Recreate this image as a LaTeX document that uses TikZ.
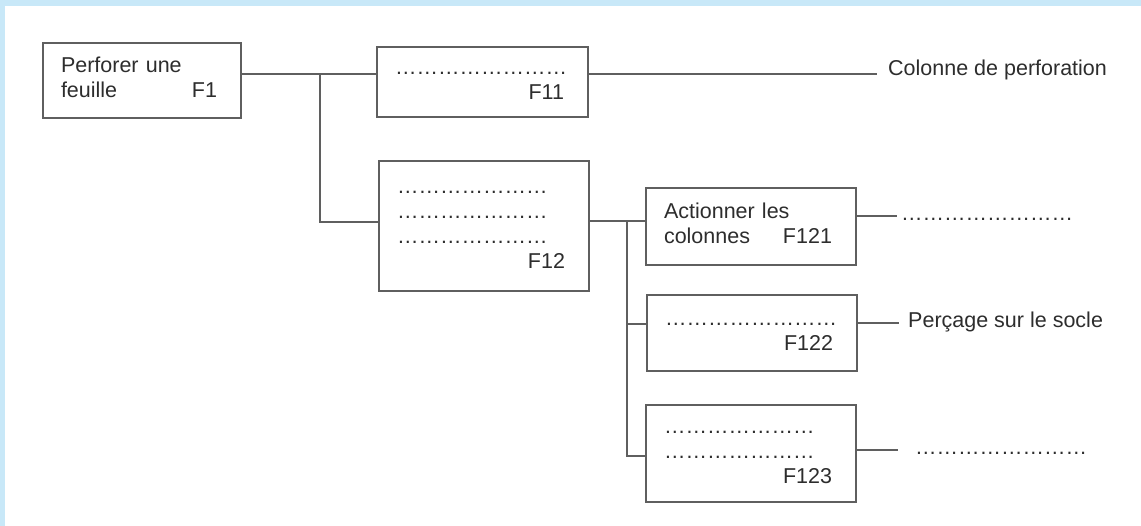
\documentclass[tikz,border=0pt]{standalone}
\usepackage{fontspec}
\setmainfont{Liberation Sans}
\usepackage{tikz}
\usetikzlibrary{positioning,calc}
\definecolor{linegray}{RGB}{95,95,95}
\definecolor{txtgray}{RGB}{45,45,45}
\definecolor{frameblue}{RGB}{200,232,248}
\newcommand\fnum[1]{\mbox{}\hfill #1\kern6pt}

\begin{document}
\begin{tikzpicture}[
    x=1pt, y=-1pt,
    fbox/.style={draw=linegray, line width=1.6pt, text=txtgray,
      font=\fontsize{21.5}{25}\selectfont, align=left, inner xsep=18pt, inner ysep=0pt,
      execute at begin node=\strut, execute at end node=\strut},
    link/.style={draw=linegray, line width=1.6pt},
    lab/.style={text=txtgray, font=\fontsize{21.5}{25}\selectfont, inner sep=0pt, anchor=base west}
  ]
  \fill[frameblue] (0,0) rectangle (1141,526);
  \fill[white] (5,6) rectangle (1141,526);

  \node[fbox, text width=162pt, minimum height=75pt] (F1) at (142,80.5) {Perforer une\\feuille\fnum{F1}};
  \node[fbox, text width=175pt, minimum height=70pt] (F11) at (482.5,82) {……………………\\\fnum{F11}};
  \node[fbox, text width=174pt, minimum height=130pt] (F12) at (484,226) {…………………\\…………………\\…………………\\\fnum{F12}};
  \node[fbox, text width=174pt, minimum height=77pt] (F121) at (751,226.5) {Actionner les\\colonnes\fnum{F121}};
  \node[fbox, text width=174pt, minimum height=76pt] (F122) at (752,333) {……………………\\\fnum{F122}};
  \node[fbox, text width=174pt, minimum height=97pt] (F123) at (751,453.5) {…………………\\…………………\\\fnum{F123}};

  \node[lab] (col) at (888,76) {Colonne de perforation};
  \node[lab] (d121) at (901,221) {……………………};
  \node[lab] (perc) at (908,328) {Perçage sur le socle};
  \node[lab] (d123) at (915,454) {……………………};

  \coordinate (j1) at (320,74);
  \coordinate (j2) at (320,222);
  \coordinate (k1) at (627,221);
  \coordinate (k2) at (627,324);
  \coordinate (k3) at (627,456);
  \coordinate (e1) at (877,74);
  \coordinate (e2) at (897,216);
  \coordinate (e3) at (899,323);
  \coordinate (e4) at (898,450);

  \draw[link] (F1.east |- j1) -- (F11.west |- j1);
  \draw[link] (j1) -- (j2) -- (F12.west |- j2);
  \draw[link] (F11.east |- e1) -- (e1);
  \draw[link] (F12.east |- k1) -- (F121.west |- k1);
  \draw[link] (k1) -- (k3) -- (F123.west |- k3);
  \draw[link] (k2) -- (F122.west |- k2);
  \draw[link] (F121.east |- e2) -- (e2);
  \draw[link] (F122.east |- e3) -- (e3);
  \draw[link] (F123.east |- e4) -- (e4);
\end{tikzpicture}
\end{document}
